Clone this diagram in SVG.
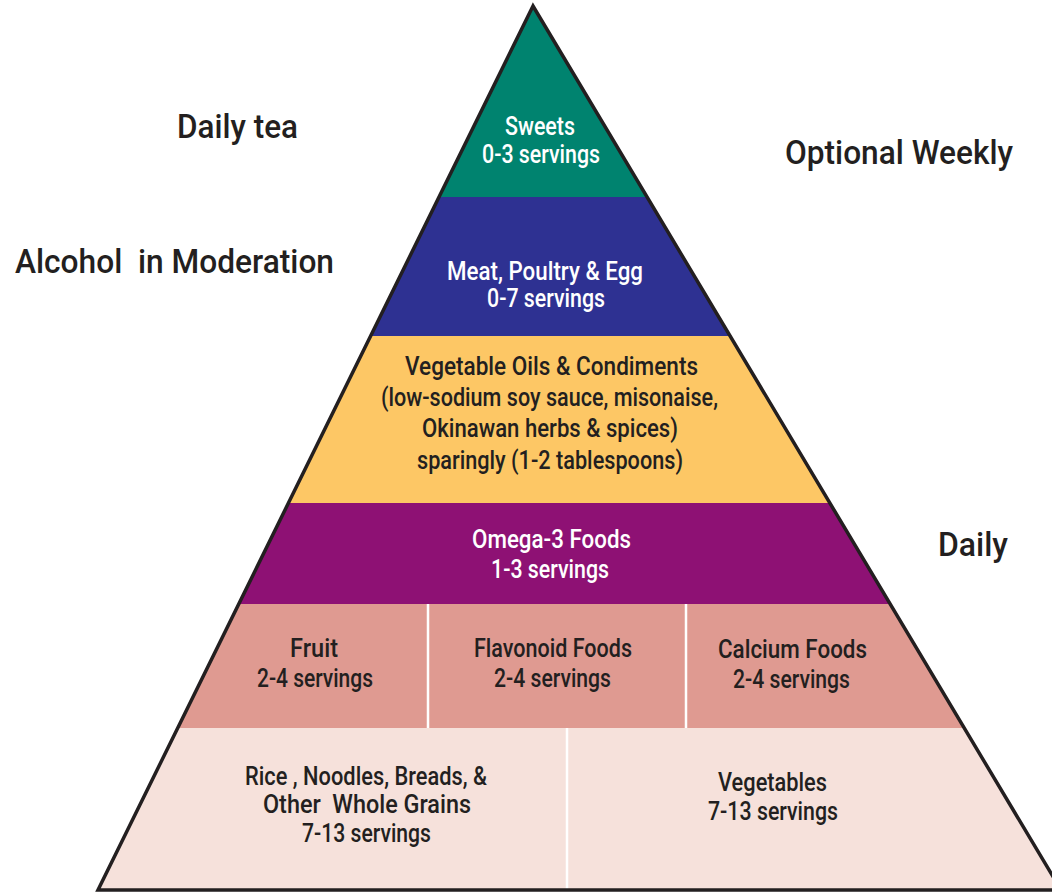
<svg xmlns="http://www.w3.org/2000/svg" width="1052" height="892" viewBox="0 0 1052 892">
  <style>
    .t { font-family: Roboto, "DejaVu Sans Condensed", "Liberation Sans", sans-serif; font-size: 26px; font-weight: 500; fill: #231F20; white-space: pre; }
    .w { fill: #FFFFFF; }
    .side { font-family: Roboto, "DejaVu Sans Condensed", "Liberation Sans", sans-serif; font-size: 34px; fill: #231F20; font-weight: 500; white-space: pre; }
    .div { stroke: #FFFFFF; stroke-width: 2.5; }
  </style>
  <defs>
    <clipPath id="pyr">
      <polygon points="533,6 98,890 1061,890"/>
    </clipPath>
  </defs>
  <rect width="1052" height="892" fill="#FFFFFF"/>
  <g id="side-labels">
    <text class="side" x="177" y="138" textLength="121" lengthAdjust="spacingAndGlyphs">Daily tea</text>
    <text class="side" x="15" y="273" textLength="319" lengthAdjust="spacingAndGlyphs">Alcohol  in Moderation</text>
    <text class="side" x="785" y="164" textLength="228" lengthAdjust="spacingAndGlyphs">Optional Weekly</text>
    <text class="side" x="938" y="556" textLength="70" lengthAdjust="spacingAndGlyphs">Daily</text>
  </g>
  <g clip-path="url(#pyr)">
    <g id="sweets"><rect x="0" y="0" width="1052" height="197" fill="#00836F"/></g>
    <g id="meat"><rect x="0" y="197" width="1052" height="139" fill="#2E3192"/></g>
    <g id="oils"><rect x="0" y="336" width="1052" height="167" fill="#FDC765"/></g>
    <g id="omega"><rect x="0" y="503" width="1052" height="101" fill="#8E1174"/></g>
    <g id="fruit-flav-calc"><rect x="0" y="604" width="1052" height="124" fill="#DF9A91"/></g>
    <g id="grains-veg"><rect x="0" y="728" width="1052" height="164" fill="#F6E1DB"/></g>
    <g id="dividers">
      <line class="div" x1="428" y1="604" x2="428" y2="728"/>
      <line class="div" x1="686" y1="604" x2="686" y2="728"/>
      <line class="div" x1="567" y1="728" x2="567" y2="892"/>
    </g>
  </g>
  <polygon points="533,6 98,890 1061,890" fill="none" stroke="#231F20" stroke-width="3.5" stroke-linejoin="miter"/>
  <g id="labels">
    <text class="t w" x="505" y="135" textLength="70" lengthAdjust="spacingAndGlyphs">Sweets</text>
    <text class="t w" x="482" y="163" textLength="118" lengthAdjust="spacingAndGlyphs">0-3 servings</text>
    <text class="t w" x="447" y="280" textLength="196" lengthAdjust="spacingAndGlyphs">Meat, Poultry &amp; Egg</text>
    <text class="t w" x="487" y="307" textLength="118" lengthAdjust="spacingAndGlyphs">0-7 servings</text>
    <text class="t" x="405" y="375" textLength="293" lengthAdjust="spacingAndGlyphs">Vegetable Oils &amp; Condiments</text>
    <text class="t" x="381" y="406" textLength="337" lengthAdjust="spacingAndGlyphs">(low-sodium soy sauce, misonaise,</text>
    <text class="t" x="422" y="437" textLength="256" lengthAdjust="spacingAndGlyphs">Okinawan herbs &amp; spices)</text>
    <text class="t" x="417" y="469" textLength="266" lengthAdjust="spacingAndGlyphs">sparingly (1-2 tablespoons)</text>
    <text class="t w" x="472" y="548" textLength="159" lengthAdjust="spacingAndGlyphs">Omega-3 Foods</text>
    <text class="t w" x="491" y="578" textLength="118" lengthAdjust="spacingAndGlyphs">1-3 servings</text>
    <text class="t" x="290" y="657" textLength="48" lengthAdjust="spacingAndGlyphs">Fruit</text>
    <text class="t" x="257" y="687" textLength="116" lengthAdjust="spacingAndGlyphs">2-4 servings</text>
    <text class="t" x="474" y="657" textLength="158" lengthAdjust="spacingAndGlyphs">Flavonoid Foods</text>
    <text class="t" x="494" y="687" textLength="117" lengthAdjust="spacingAndGlyphs">2-4 servings</text>
    <text class="t" x="718" y="658" textLength="149" lengthAdjust="spacingAndGlyphs">Calcium Foods</text>
    <text class="t" x="733" y="688" textLength="117" lengthAdjust="spacingAndGlyphs">2-4 servings</text>
    <text class="t" x="245" y="785" textLength="242" lengthAdjust="spacingAndGlyphs">Rice , Noodles, Breads, &amp;</text>
    <text class="t" x="263" y="813" textLength="208" lengthAdjust="spacingAndGlyphs">Other  Whole Grains</text>
    <text class="t" x="302" y="842" textLength="129" lengthAdjust="spacingAndGlyphs">7-13 servings</text>
    <text class="t" x="718" y="791" textLength="109" lengthAdjust="spacingAndGlyphs">Vegetables</text>
    <text class="t" x="708" y="820" textLength="130" lengthAdjust="spacingAndGlyphs">7-13 servings</text>
  </g>
</svg>
